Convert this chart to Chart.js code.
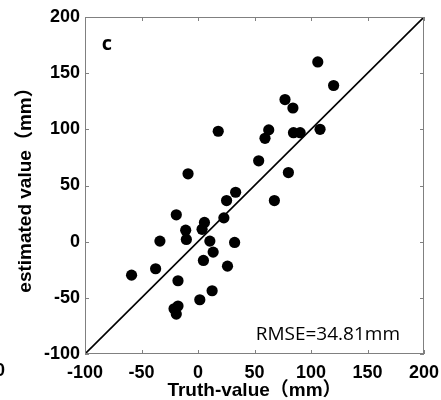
<!DOCTYPE html>
<html>
<head>
<meta charset="utf-8">
<script src="https://cdn.jsdelivr.net/npm/chart.js@4/dist/chart.umd.min.js"></script>
<style>
	body { margin: 0; background: #fff; }
	#c { display: block; }
</style>
</head>
<body>
<canvas id="c" width="441" height="400"></canvas>
<script>
// values
var truthX = [106, 120, 77, 84, 62.6, 59.3, 84.5, 90.4, 108, 17.9, 53.7, 80, -8.8, 33.3, 25.3, 67.6, -19.2, 22.9, 5.7, 3.6, -10.9, -10.3, -33.7, 10.5, 32.4, 13.4, 4.8, 26.1, -37.5, -58.8, -17.7, 12.5, 1.6, -17.7, -21.2, -19.2];
var estY = [160, 139, 126.5, 119, 99.5, 92, 97, 97, 100, 98.3, 72, 61.5, 60.4, 44, 36.6, 36.6, 23.9, 21.2, 17.1, 11, 10.2, 2, 0.5, 0.5, -0.7, -9.3, -16.7, -21.8, -24.1, -29.8, -34.8, -43.7, -51.7, -57.3, -59.7, -64.5];
var oneToOne = [-100, 200];
var axisMin = -100, axisMax = 200, axisStep = 50;
var panelLabel = 'c';
var rmseText = 'RMSE=34.81mm';

var tickFont = { family: '"Liberation Sans", Arial, sans-serif', size: 18, weight: 'bold' };
var titleFont = { family: '"Liberation Sans", Arial, "Noto Sans CJK SC", sans-serif', size: 19, weight: 'bold', lineHeight: 1 };

var points = truthX.map(function(v, i) { return { x: v, y: estY[i] }; });
var diag = oneToOne.map(function(v) { return { x: v, y: v }; });

// box round the plot with ticks pointing inwards on all four sides
var frame = {
	id: 'frame',
	afterDraw: function(chart) {
		var ctx = chart.ctx, a = chart.chartArea;
		var x = chart.scales.x, y = chart.scales.y;
		ctx.save();
		ctx.strokeStyle = '#808080';
		ctx.lineWidth = 1;
		ctx.strokeRect(Math.round(a.left) + 0.5, Math.round(a.top) + 0.5, Math.round(a.width) - 1, Math.round(a.height) - 1);
		ctx.beginPath();
		x.ticks.forEach(function(t) {
			var px = Math.round(x.getPixelForValue(t.value)) + 0.5;
			ctx.moveTo(px, a.bottom); ctx.lineTo(px, a.bottom - 4);
			ctx.moveTo(px, a.top); ctx.lineTo(px, a.top + 4);
		});
		y.ticks.forEach(function(t) {
			var py = Math.round(y.getPixelForValue(t.value)) + 0.5;
			ctx.moveTo(a.left, py); ctx.lineTo(a.left + 4, py);
			ctx.moveTo(a.right, py); ctx.lineTo(a.right - 4, py);
		});
		ctx.stroke();

		ctx.fillStyle = '#000';
		ctx.textBaseline = 'middle';
		ctx.font = 'bold 20px "Open Sans", sans-serif';
		ctx.textAlign = 'center';
		ctx.fillText(panelLabel, a.left + 22, a.top + 27);
		ctx.font = '19px "Open Sans", sans-serif';
		ctx.textAlign = 'right';
		ctx.fillText(rmseText, a.right - 24, a.bottom - 19);
		// tail of the next panel's tick label
		ctx.font = 'bold 18px "Liberation Sans", Arial, sans-serif';
		ctx.fillText('0', 5, 371);
		ctx.restore();
	}
};

var chart = new Chart(document.getElementById('c'), {
	type: 'scatter',
	data: {
		datasets: [{
			type: 'line',
			data: diag,
			borderColor: '#000',
			borderWidth: 1.6,
			pointRadius: 0,
			fill: false
		}, {
			data: points,
			backgroundColor: '#000',
			borderWidth: 0,
			pointRadius: 5.6,
			pointHoverRadius: 5.6
		}]
	},
	plugins: [frame],
	options: {
		responsive: false,
		animation: false,
		layout: { padding: { top: 17, right: 17, left: 0, bottom: 0 } },
		plugins: {
			legend: { display: false },
			tooltip: { enabled: false }
		},
		scales: {
			x: {
				type: 'linear',
				min: axisMin,
				max: axisMax,
				grid: { display: false, drawTicks: false },
				border: { display: false },
				ticks: { stepSize: axisStep, color: '#000', font: tickFont, padding: 8, maxRotation: 0 },
				title: { display: true, text: 'Truth-value（mm）', color: '#000', font: titleFont, padding: 0 },
				afterFit: function(s) { s.height = 46; s.paddingLeft = 0; s.paddingRight = 0; }
			},
			y: {
				type: 'linear',
				min: axisMin,
				max: axisMax,
				grid: { display: false, drawTicks: false },
				border: { display: false },
				ticks: { stepSize: axisStep, color: '#000', font: tickFont, padding: 5 },
				title: { display: true, text: 'estimated value（mm）', color: '#000', font: titleFont, padding: { top: 16, bottom: 0 } },
				afterFit: function(s) { s.width = 85; s.paddingTop = 0; s.paddingBottom = 0; }
			}
		}
	}
});
</script>
</body>
</html>
